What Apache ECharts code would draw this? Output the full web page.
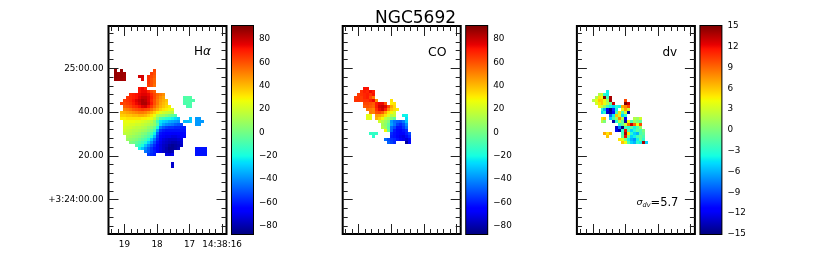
<!DOCTYPE html>
<html><head><meta charset="utf-8">
<script src="https://cdn.jsdelivr.net/npm/echarts@6/dist/echarts.min.js"></script>
<style>html,body{margin:0;padding:0;background:#fff}#c{width:830px;height:260px}</style>
</head><body><div id="c"></div>
<script>
// --- sky grid: each map cell is one spaxel ---
const ra0 = 19.269, raStep = 0.0917, dec0 = 59.0, decStep = 1.37;

// --- tick values (RA seconds, Dec arcsec past +3:24:00) ---
const raMajor = [19, 18, 17, 16];
const raLabels = ['19', '18', '17', '14:38:16'];
const raMinor = [19.4,19.2,18.8,18.6,18.4,18.2,17.8,17.6,17.4,17.2,16.8,16.6,16.4,16.2];
const decMajor = [60, 40, 20, 0];
const decLabels = ['25:00.00', '40.00', '20.00', '+3:24:00.00'];
const decMinor = [76,72,68,64,56,52,48,44,36,32,28,24,16,12,8,4,-4,-8,-12];
const velTicks = [80,60,40,20,0,-20,-40,-60,-80];
const dvTicks = [15,12,9,6,3,0,-3,-6,-9,-12,-15];

// --- velocity maps: [row, first column, values] ---
const haRows = [
 [0,0,[88]],[0,2,[88]],[0,13,[62]],
 [1,0,[88,86,87,86]],[1,12,[64,60]],
 [2,0,[88,87,87,86]],[2,8,[78,78]],[2,11,[66,62,58]],
 [3,0,[87,86,86,85]],[3,9,[76]],[3,11,[66,60,56]],
 [4,11,[66,60,56]],[5,11,[64,60,54]],
 [6,8,[72,74,70]],
 [7,8,[72,74,74,68,62,58]],
 [8,5,[68,70,72,74,76,76,74,68,62,56,52,48]],
 [9,4,[66,68,70,72,76,80,80,76,70,62,54,48,44]],
 [9,23,[-8,-7,-7]],
 [10,3,[64,66,68,72,76,80,84,82,76,68,60,52,46,42,38]],
 [10,23,[-8,-7,-8,-8]],
 [11,2,[64,62,64,66,70,74,78,84,84,78,70,60,52,44,40,36]],
 [11,23,[-9,-8,-8]],
 [12,3,[58,60,62,66,68,72,76,78,72,64,56,48,42,38,34,30]],
 [12,24,[-9,-9]],
 [13,3,[50,52,54,58,60,62,64,62,60,54,48,42,36,32,30,26,24]],
 [14,2,[40,42,44,46,48,50,52,52,50,46,42,36,30,24,20,18,16,14]],
 [15,2,[36,36,38,38,40,40,42,42,40,36,32,26,14,10,8,4,0,-4,-8]],
 [16,2,[30,30,32,32,32,32,32,30,30,28,26,18,4,-8,-12,-16,-18,-22,-26,-30]],
 [16,25,[-30]],[16,27,[-38,-38]],
 [17,3,[26,26,26,26,24,24,22,20,18,14,6,-12,-24,-28,-30,-34,-36,-38,-40]],
 [17,23,[-32,-32,-30]],[17,27,[-38,-38,-38]],
 [18,3,[24,24,22,22,20,20,18,16,14,10,6,-6,-28,-36,-40,-42,-44,-48,-50,-52]],
 [18,27,[-38,-38]],
 [19,3,[22,20,20,18,16,16,14,12,8,4,-2,-20,-44,-50,-54,-56,-56,-58,-58,-60,-60]],
 [20,3,[20,18,16,14,14,12,10,8,4,-2,-10,-36,-56,-60,-62,-62,-62,-62,-62,-62,-62]],
 [21,3,[16,16,14,12,10,8,4,2,-4,-10,-22,-48,-62,-64,-66,-66,-68,-68,-66,-66,-64]],
 [22,4,[12,10,8,6,4,0,-4,-8,-18,-32,-54,-64,-68,-70,-70,-72,-72,-70,-68,-66]],
 [23,4,[8,6,4,2,-2,-6,-10,-18,-30,-44,-58,-68,-72,-74,-76,-76,-76,-74,-72]],
 [24,5,[2,0,-4,-8,-12,-18,-28,-40,-52,-62,-70,-74,-76,-78,-80,-80,-78,-74]],
 [25,7,[-8,-14,-20,-30,-40,-50,-58,-66,-72,-76,-78,-82,-84,-82,-80,-76]],
 [26,8,[-22,-30,-40,-48,-56,-62,-68,-72,-76,-80,-84,-84,-82,-78]],
 [26,27,[-62,-62,-62,-62]],
 [27,10,[-44,-50,-56,-60,-66,-72,-76,-78,-80,-78]],
 [27,27,[-62,-62,-62,-62]],
 [28,11,[-54,-58,-60]],[28,17,[-72,-74,-70]],
 [28,27,[-62,-62,-62,-62]],
 [31,19,[-75]],[32,19,[-75]]
];
const coRows = [
 [6,5,[72,72]],
 [7,4,[66,70,68,74,70]],
 [8,3,[64,66,68,70,66,72]],
 [9,2,[64,66,64,68,70,62,52]],
 [10,2,[66,66,64,66,66,70,74,48]],[10,14,[32]],
 [11,5,[62,62,60,58,70,74,74,60]],[11,14,[30,32]],
 [12,5,[58,60,58,56,70,78,80,76,62,44,34]],
 [13,6,[54,52,50,66,74,78,70,50,38,34,30]],
 [14,7,[52,50,60,62,58,44,32,28,20]],
 [15,6,[25,25]],[15,9,[46,44,40,32,22,14,18]],[15,18,[-22,-22]],
 [16,6,[24,24]],[16,9,[42,36,28,16,10,2,-6]],[16,19,[-26]],
 [17,10,[20,14,8,2,-38,-45,-48,-50,-44,-30]],
 [18,11,[10,6,-4,-36,-44,-54,-58,-52,-40]],
 [19,11,[14,8,-6,-46,-52,-62,-62,-56,-46]],
 [20,12,[28,-4,-48,-60,-64,-66,-62,-58]],
 [21,7,[-14,-14,-14]],[21,14,[-58,-62,-64,-68,-66,-60,-52]],
 [22,8,[-16]],[22,14,[-60,-62,-66,-70,-72,-64,-58]],
 [23,12,[-46,-52,-56,-58,-62,-66,-70,-74,-66]],
 [24,13,[-48,-54,-58]],[24,19,[-82,-66]]
];
const dvRows = [
 [7,8,[-4]],
 [8,5,[2,3,-3,-4]],
 [9,4,[2,5,4,15,-2,14]],
 [10,3,[2,4,6,6,4,1,14]],[10,14,[10]],
 [11,4,[3,5,6,4,2,-1,13]],[11,14,[15,13]],
 [12,5,[4,3,1,-2,-4,-5,-3,-4,7,8,10]],
 [13,6,[-3,-6,-12,-15,-10,-4]],[13,13,[4,7,3]],
 [14,6,[-5,-3,-13,-14,-11,-2,5,-2,3,-14]],
 [15,9,[-8,-4,6,3,-5,-3]],
 [16,6,[5,6]],[16,9,[-5,-2,1,8,2,-12]],[16,17,[2,1,3]],
 [17,6,[2,0]],[17,10,[-14,-3,2,-1,-14,4,-2,1,0,-1]],
 [18,12,[-3,-1,3,9,13,9,4,10]],
 [19,11,[-13,-8,-15,-2,-3,-1,-4,-2,1]],
 [20,11,[-12,-14,-3,12,-2,-5,-3,-1,-2,0]],
 [21,7,[7,5,7]],[21,13,[-2,14,5,-3,-5,-6,-2,-1]],
 [22,8,[6]],[22,13,[-1,12,-1,-5,-4,-2,-1,-2]],
 [23,12,[5,4,0,-4,-6,-7,-4,-1,-3]],
 [24,13,[6,4,-2,-5,-6,-3,-4,14,-5]]
];

// matplotlib "jet"
function lerp(p, t) {
  for (let i = 1; i < p.length; i++) if (t <= p[i][0])
    return p[i-1][1] + (p[i][1]-p[i-1][1]) * (t-p[i-1][0]) / (p[i][0]-p[i-1][0]);
  return p[p.length-1][1];
}
const jR = [[0,0],[.35,0],[.66,1],[.89,1],[1,.5]];
const jG = [[0,0],[.125,0],[.375,1],[.64,1],[.91,0],[1,0]];
const jB = [[0,.5],[.11,1],[.34,1],[.65,0],[1,0]];
function jet(t) {
  t = Math.max(0, Math.min(1, t));
  const c = [jR,jG,jB].map(p => Math.round(lerp(p,t)*255));
  return 'rgb(' + c.join(',') + ')';
}
const jetStops = [0,.11,.125,.34,.35,.375,.64,.65,.66,.89,.91,1].map(t => ({offset:1-t, color:jet(t)}));

function toCells(rows) {
  const out = [];
  rows.forEach(([r,c,vals]) => vals.forEach((v,i) =>
    out.push([ra0 - (c+i)*raStep, dec0 - r*decStep, v])));
  return out;
}

const panels = [
 {rows:haRows, vmin:-87, vmax:91, ticks:velTicks, labels:true},
 {rows:coRows, vmin:-87, vmax:91, ticks:velTicks, labels:false},
 {rows:dvRows, vmin:-15, vmax:15, ticks:dvTicks, labels:false}
];
const pitch = 234.2, font = 'DejaVu Sans', frame = {show:true,borderColor:'#000',borderWidth:2,backgroundColor:'#fff'};
const grid=[], xAxis=[], yAxis=[], series=[];
const tickStyle = {color:'#222', width:1};

function axisBase(extra){
  return Object.assign({type:'value', axisLine:{show:false}, splitLine:{show:false}, axisLabel:{show:false}, axisTick:{show:false}}, extra);
}
function tickAxis(kind, gridIndex, position, values, len, labels, labelTexts){
  const range = kind==='x' ? {min:15.865,max:19.49,inverse:true} : {min:-15.7,max:79.3};
  const ax = axisBase(Object.assign({gridIndex, position}, range));
  ax.axisLine = {show:false, onZero:false};
  ax.axisTick = {show:true, inside:true, length:len, lineStyle:tickStyle, customValues:values};
  if (labels) {
    ax.axisLabel = {show:true, customValues:values, color:'#000', fontFamily:font, fontSize:8.8, margin:kind==='x'?6:5,
      hideOverlap:false, showMinLabel:true, showMaxLabel:true,
      formatter:v => labelTexts[values.indexOf(v)]};
  }
  return ax;
}

panels.forEach((p,k) => {
  const left = 108.5 + k*pitch;
  const gMain = grid.length;
  grid.push(Object.assign({left, top:26, width:118, height:208}, frame));
  const xi = xAxis.length, yi = yAxis.length;
  xAxis.push(tickAxis('x',gMain,'bottom',raMajor,10,p.labels,raLabels));
  xAxis.push(tickAxis('x',gMain,'top',raMajor,10,false));
  xAxis.push(tickAxis('x',gMain,'bottom',raMinor,5,false));
  xAxis.push(tickAxis('x',gMain,'top',raMinor,5,false));
  yAxis.push(tickAxis('y',gMain,'left',decMajor,10,p.labels,decLabels));
  yAxis.push(tickAxis('y',gMain,'right',decMajor,10,false));
  yAxis.push(tickAxis('y',gMain,'left',decMinor,5,false));
  yAxis.push(tickAxis('y',gMain,'right',decMinor,5,false));
  series.push({
    type:'custom', coordinateSystem:'cartesian2d', xAxisIndex:xi, yAxisIndex:yi,
    data:toCells(p.rows), encode:{x:0,y:1}, silent:true, animation:false,
    renderItem:(params,api) => {
      const a = api.coord([api.value(0)+raStep/2, api.value(1)+decStep/2]);
      const b = api.coord([api.value(0)-raStep/2, api.value(1)-decStep/2]);
      const x0=Math.round(Math.min(a[0],b[0])), x1=Math.round(Math.max(a[0],b[0]));
      const y0=Math.round(Math.min(a[1],b[1])), y1=Math.round(Math.max(a[1],b[1]));
      return {type:'rect', shape:{x:x0,y:y0,width:x1-x0,height:y1-y0},
        style:{fill:jet((api.value(2)-p.vmin)/(p.vmax-p.vmin))}};
    }
  });
  // colour bar
  const gBar = grid.length;
  grid.push(Object.assign({left:232+k*pitch, top:26, width:21, height:208}, frame));
  const xb = xAxis.length, yb = yAxis.length;
  xAxis.push(axisBase({gridIndex:gBar, min:0, max:1, show:false}));
  const barY = axisBase({gridIndex:gBar, position:'right', min:p.vmin, max:p.vmax});
  barY.axisLine = {show:false, onZero:false};
  barY.axisTick = {show:true, inside:true, length:5, lineStyle:{color:'#000',width:1}, customValues:p.ticks};
  barY.axisLabel = {show:true, customValues:p.ticks, color:'#000', fontFamily:font, fontSize:8.8, margin:6,
     showMinLabel:true, showMaxLabel:true, hideOverlap:false,
     formatter:v => String(v).replace('-','\u2212')};
  yAxis.push(barY);
  series.push({
    type:'custom', coordinateSystem:'cartesian2d', xAxisIndex:xb, yAxisIndex:yb,
    data:[[0,p.vmin,1,p.vmax]], encode:{x:0,y:1}, silent:true, animation:false, z:1,
    renderItem:(params,api) => {
      const a = api.coord([api.value(0),api.value(3)]), b = api.coord([api.value(2),api.value(1)]);
      return {type:'rect', shape:{x:a[0],y:a[1],width:b[0]-a[0],height:b[1]-a[1]},
        style:{fill:new echarts.graphic.LinearGradient(0,0,0,1,jetStops)}};
    }
  });
});

const label = (x,y,text,size) => ({type:'text', x, y, z:100, style:{text, fontFamily:font, fontSize:size, fill:'#000', verticalAlign:'middle', align:'left'}});
const chart = echarts.init(document.getElementById('c'), null, {renderer:'canvas'});
chart.setOption({
  animation:false, backgroundColor:'#fff',
  title:{text:'NGC5692', left:410.5, textAlign:'center', top:5, textStyle:{fontFamily:font,fontWeight:'normal',fontSize:17,color:'#000'}},
  grid, xAxis, yAxis, series,
  graphic:[
    {type:'text', x:194, y:52, z:100, style:{text:'H{a|\u03b1}', fontFamily:font, fontSize:12, fill:'#000', verticalAlign:'middle',
       rich:{a:{fontFamily:font,fontStyle:'italic',fontSize:12}}}},
    label(428,52.5,'CO',12.5),
    label(662.5,52.5,'dv',12),
    {type:'text', x:636.5, y:203, z:100, style:{text:'{s|\u03c3}{d|dv}{n|=5.7}', fontFamily:font, fill:'#000', verticalAlign:'middle',
       rich:{s:{fontFamily:font,fontStyle:'italic',fontSize:9.5},
             d:{fontFamily:font,fontStyle:'italic',fontSize:6.5,verticalAlign:'bottom',padding:[5,0,0,0]},
             n:{fontFamily:font,fontSize:11.5}}}}
  ]
});
</script></body></html>
